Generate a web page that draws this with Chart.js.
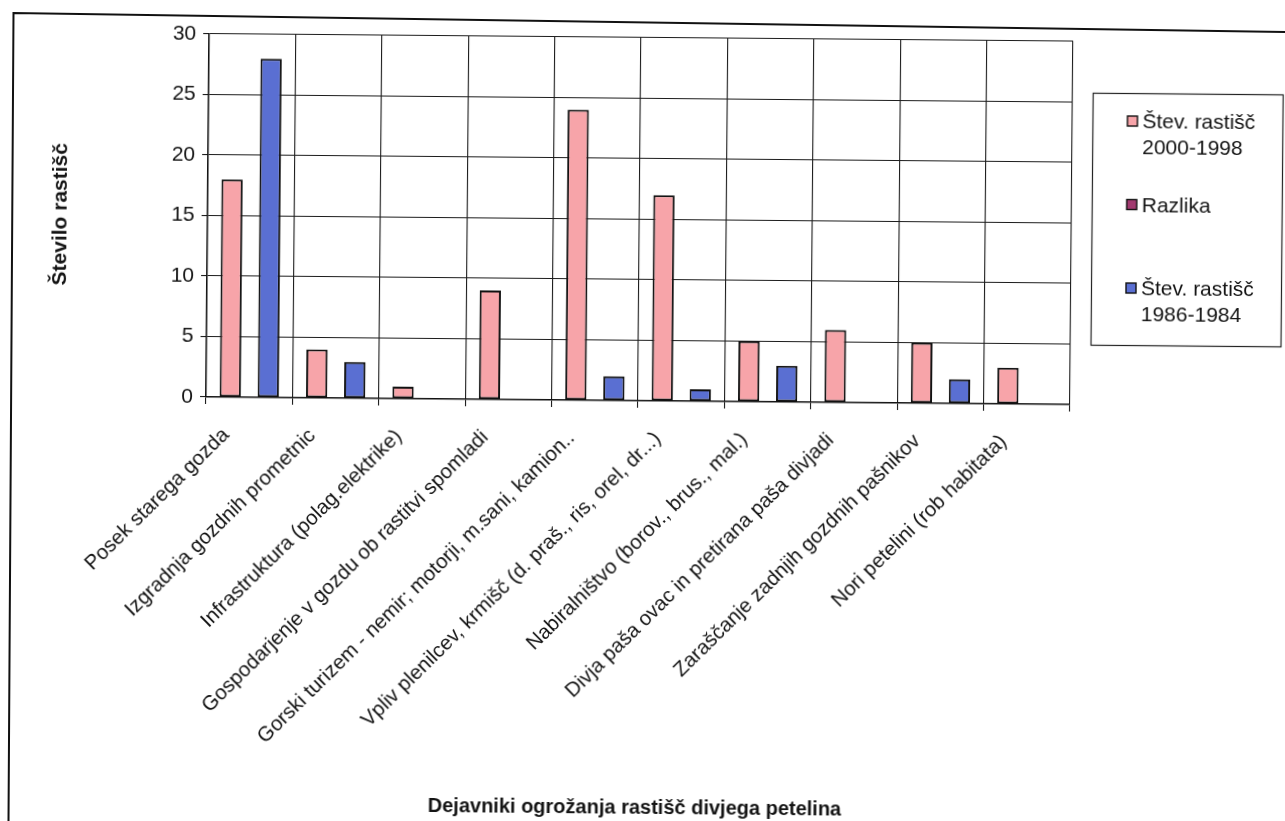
<!DOCTYPE html>
<html lang="sl">
<head>
<meta charset="utf-8">
<title>Dejavniki ogrožanja rastišč divjega petelina</title>
<script src="https://cdn.jsdelivr.net/npm/chart.js@4.4.1/dist/chart.umd.min.js"></script>
<style>
  html, body { margin: 0; padding: 0; background: #ffffff; overflow: hidden; }
  #wrap { position: relative; width: 1285px; height: 821px; overflow: hidden; }
  #frame, #chart { position: absolute; left: 0; top: 0; display: block; }
  /* the printed page sits slightly askew */
  #chart { transform: rotate(0.5deg); transform-origin: 206px 399px; }
</style>
</head>
<body>
<div id="wrap">
  <canvas id="frame" width="1285" height="821"></canvas>
  <canvas id="chart" width="1285" height="821"></canvas>
</div>
<script>
// Dejavniki ogrožanja (kategorije na osi x)
const categories = [
  'Posek starega gozda',
  'Izgradnja gozdnih prometnic',
  'Infrastruktura (polag.elektrike)',
  'Gospodarjenje v gozdu ob rastitvi spomladi',
  'Gorski turizem - nemir; motorji, m.sani, kamion..',
  'Vpliv plenilcev, krmišč (d. praš., ris, orel, dr...)',
  'Nabiralništvo (borov., brus., mal.)',
  'Divja paša ovac in pretirana paša divjadi',
  'Zaraščanje zadnjih gozdnih pašnikov',
  'Nori petelini (rob habitata)'
];

// Število rastišč po obdobjih
const rastisca2000 = [18, 4, 1, 9, 24, 17, 5, 6, 5, 3];
const razlika      = [0, 0, 0, 0, 0, 0, 0, 0, 0, 0];
const rastisca1986 = [28, 3, 0, 0, 2, 1, 3, 0, 2, 0];

// Imena serij (vrstice v legendi)
const label2000    = ['Štev. rastišč', '2000-1998'];
const labelRazlika = ['Razlika'];
const label1986    = ['Štev. rastišč', '1986-1984'];

// Oznake na osi y
const yTicks = [0, 5, 10, 15, 20, 25, 30];

const FONT = "'Liberation Sans', Arial, sans-serif";
const INK = '#141414';

// Okvir strani
(function drawFrame() {
  const ctx = document.getElementById('frame').getContext('2d');
  ctx.fillStyle = '#ffffff';
  ctx.fillRect(0, 0, 1285, 821);
  ctx.strokeStyle = '#111';
  ctx.lineWidth = 2;
  ctx.beginPath();
  ctx.moveTo(1285, 32);
  ctx.lineTo(13.5, 13);
  ctx.lineTo(8.5, 821);
  ctx.stroke();
})();

// Legenda v okvirju desno od grafikona
const boxLegendPlugin = {
  id: 'boxLegend',
  afterDraw(chart) {
    const ctx = chart.ctx;
    const x0 = 1090, y0 = 85, w = 190, h = 252;
    ctx.save();
    ctx.fillStyle = '#ffffff';
    ctx.fillRect(x0, y0, w, h);
    ctx.strokeStyle = '#222';
    ctx.lineWidth = 1.2;
    ctx.strokeRect(x0 + 0.5, y0 + 0.5, w, h);
    ctx.font = '21px ' + FONT;
    ctx.textBaseline = 'alphabetic';
    ctx.textAlign = 'left';
    const firstBase = 120, step = 83.5, lineGap = 26;
    chart.data.datasets.forEach((ds, i) => {
      const base = firstBase + i * step;
      ctx.fillStyle = ds.backgroundColor;
      ctx.fillRect(1125, base - 12, 10, 10);
      ctx.strokeStyle = '#111';
      ctx.lineWidth = 1.4;
      ctx.strokeRect(1125, base - 12, 10, 10);
      ctx.fillStyle = INK;
      ds.legendLines.forEach((line, j) => {
        ctx.fillText(line, 1140, base + j * lineGap);
      });
    });
    ctx.restore();
  }
};

const barStyle = {
  borderColor: '#111',
  borderWidth: 2,
  borderSkipped: false,
  categoryPercentage: 0.66,
  barPercentage: 1.12
};

new Chart(document.getElementById('chart'), {
  type: 'bar',
  data: {
    labels: categories,
    datasets: [
      Object.assign({ label: label2000.join(' '), legendLines: label2000, data: rastisca2000, backgroundColor: '#F7A4A9' }, barStyle),
      Object.assign({ label: labelRazlika.join(' '), legendLines: labelRazlika, data: razlika, backgroundColor: '#A23A70' }, barStyle),
      Object.assign({ label: label1986.join(' '), legendLines: label1986, data: rastisca1986, backgroundColor: '#5A6FD2' }, barStyle)
    ]
  },
  plugins: [boxLegendPlugin],
  options: {
    responsive: false,
    animation: false,
    devicePixelRatio: 1,
    layout: { padding: { left: 47, top: 34, right: 215, bottom: 5 } },
    plugins: {
      legend: { display: false },
      tooltip: { enabled: false }
    },
    scales: {
      x: {
        offset: true,
        grid: { display: true, offset: true, color: '#1c1c1c', lineWidth: 1.1, tickLength: 7, tickColor: '#1c1c1c' },
        border: { display: true, color: '#111', width: 1.5 },
        ticks: {
          autoSkip: false,
          maxRotation: 45,
          minRotation: 45,
          padding: 19,
          labelOffset: -23,
          color: INK,
          font: { family: FONT, size: 20.5 }
        },
        title: {
          display: true,
          text: 'Dejavniki ogrožanja rastišč divjega petelina',
          color: INK,
          padding: { top: 0, bottom: 0 },
          font: { family: FONT, size: 20, weight: 'bold' }
        },
        afterFit(scale) { scale.height = 419; }
      },
      y: {
        min: 0,
        max: 30,
        afterBuildTicks(scale) { scale.ticks = yTicks.map(v => ({ value: v })); },
        grid: { color: '#1c1c1c', lineWidth: 1.1, tickLength: 6, tickColor: '#1c1c1c' },
        border: { display: true, color: '#111', width: 1.5 },
        ticks: {
          padding: 7,
          color: INK,
          font: { family: FONT, size: 21 }
        },
        title: {
          display: true,
          text: 'Število rastišč',
          color: INK,
          padding: { top: 0, bottom: 0 },
          font: { family: FONT, size: 21, weight: 'bold' }
        },
        afterFit(scale) { scale.width = 159; }
      }
    }
  }
});
</script>
</body>
</html>
